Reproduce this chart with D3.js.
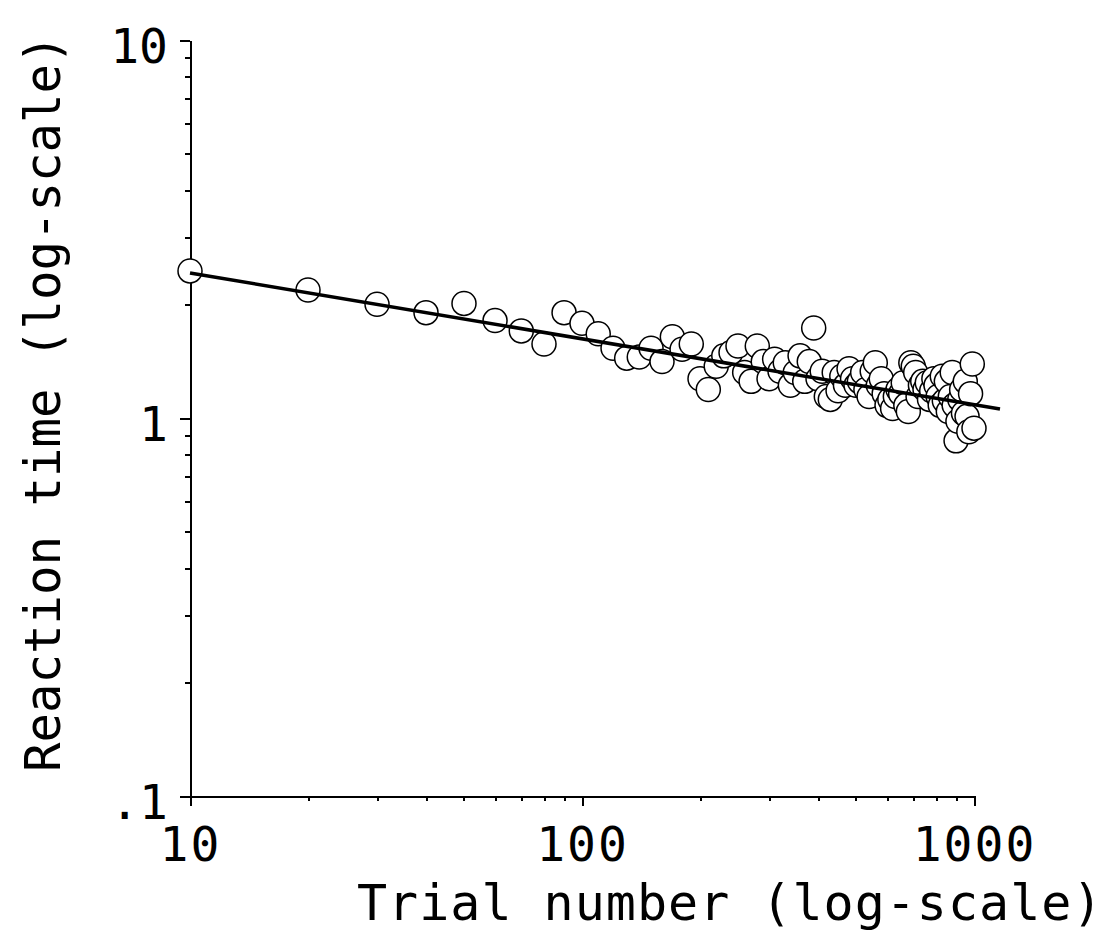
<!DOCTYPE html>
<html>
<head>
<meta charset="utf-8">
<script src="https://cdn.jsdelivr.net/npm/d3@7"></script>
<style>
  body { margin: 0; background: #fff; }
  svg text { font-family: "DejaVu Sans Mono", "Liberation Mono", monospace; fill: #000; }
</style>
</head>
<body>
<div id="viz"></div>
<script>
// trial numbers (every 10th trial) and mean reaction times
const trials = [
  10, 20, 30, 40, 50, 60, 70, 80, 90, 100,
  110, 120, 130, 140, 150, 160, 170, 180, 190, 200,
  210, 220, 230, 240, 250, 260, 270, 280, 290, 300,
  310, 320, 330, 340, 350, 360, 370, 380, 390, 400,
  410, 420, 430, 440, 450, 460, 470, 480, 490, 500,
  510, 520, 530, 540, 550, 560, 570, 580, 590, 600,
  610, 620, 630, 640, 650, 660, 670, 680, 690, 700,
  710, 720, 730, 740, 750, 760, 770, 780, 790, 800,
  810, 820, 830, 840, 850, 860, 870, 880, 890, 900,
  910, 920, 930, 940, 950, 960, 970, 980, 990, 1000
];
const reactionTimes = [
  2.45, 2.18, 2.00, 1.90, 2.01, 1.81, 1.70, 1.57, 1.90, 1.78,
  1.67, 1.53, 1.44, 1.45, 1.53, 1.41, 1.64, 1.52, 1.57, 1.27,
  1.19, 1.37, 1.46, 1.49, 1.55, 1.32, 1.25, 1.55, 1.41, 1.27,
  1.43, 1.33, 1.40, 1.22, 1.32, 1.46, 1.25, 1.41, 1.73, 1.27,
  1.33, 1.14, 1.12, 1.32, 1.18, 1.29, 1.22, 1.35, 1.27, 1.22,
  1.25, 1.32, 1.19, 1.14, 1.33, 1.40, 1.22, 1.27, 1.16, 1.08,
  1.12, 1.06, 1.14, 1.19, 1.16, 1.24, 1.08, 1.04, 1.40, 1.37,
  1.32, 1.14, 1.22, 1.25, 1.19, 1.24, 1.12, 1.18, 1.27, 1.22,
  1.14, 1.08, 1.29, 1.11, 1.25, 1.04, 1.14, 1.32, 1.08, 0.87,
  0.98, 1.12, 1.19, 1.03, 1.25, 1.01, 0.92, 1.16, 1.39, 0.94
];
// end points of the fitted power-law line
const fitTrials = [10, 1165];
const fitTimes = [2.42, 1.056];

const xMajor = [10, 100, 1000];
const yMajor = [0.1, 1, 10];
const yLabels = ['.1', '1', '10'];

(() => {
  let width = 1114,
    height = 950;

  let svg = d3.select('#viz')
    .append('svg')
    .attr('width', width)
    .attr('height', height);

  let x = d3.scaleLog()
    .domain([10, 1000])
    .range([190, 974]);

  let y = d3.scaleLog()
    .domain([0.1, 10])
    .range([796, 40]);

  let minor = (lo, hi) => {
    let out = [];
    for (let d = lo; d < hi; d *= 10) {
      for (let k = 2; k <= 9; k++) out.push(d * k);
    }
    return out;
  };

  // minor ticks
  svg.append('g')
    .attr('transform', 'translate(190,0)')
    .call(d3.axisLeft(y).tickValues(minor(0.1, 10)).tickSize(5).tickSizeOuter(0).tickFormat(''));

  svg.append('g')
    .attr('transform', 'translate(0,796)')
    .call(d3.axisBottom(x).tickValues(minor(10, 1000)).tickSize(5).tickSizeOuter(0).tickFormat(''));

  // major ticks with labels
  svg.append('g')
    .attr('class', 'y-axis')
    .attr('transform', 'translate(190,0)')
    .call(d3.axisLeft(y)
      .tickValues(yMajor)
      .tickSize(10)
      .tickSizeOuter(0)
      .tickPadding(12)
      .tickFormat((d, i) => yLabels[i]))
    .selectAll('text')
    .attr('dy', 22)
    .style('font-size', '48px');

  svg.append('g')
    .attr('class', 'x-axis')
    .attr('transform', 'translate(0,796)')
    .call(d3.axisBottom(x)
      .tickValues(xMajor)
      .tickSize(10)
      .tickSizeOuter(0)
      .tickFormat(d3.format('d')))
    .selectAll('text')
    .attr('y', 65)
    .attr('dy', 0)
    .style('font-size', '48px')
    .style('letter-spacing', '2px');

  svg.selectAll('.domain, .tick line')
    .attr('stroke', '#000')
    .attr('stroke-width', 2)
    .attr('shape-rendering', 'crispEdges');

  // points
  svg.append('g')
    .selectAll('circle')
    .data(trials.map((t, i) => ({ trial: t, rt: reactionTimes[i] })))
    .join('circle')
    .attr('cx', d => x(d.trial))
    .attr('cy', d => y(d.rt))
    .attr('r', 12)
    .attr('fill', '#fff')
    .attr('stroke', '#000')
    .attr('stroke-width', 1.5);

  // fitted line
  let line = d3.line()
    .x(d => x(d.trial))
    .y(d => y(d.rt));

  svg.append('path')
    .datum(fitTrials.map((t, i) => ({ trial: t, rt: fitTimes[i] })))
    .attr('d', line)
    .attr('fill', 'none')
    .attr('stroke', '#000')
    .attr('stroke-width', 3.5);

  // axis titles
  svg.append('text')
    .attr('x', 357)
    .attr('y', 920)
    .style('font-size', '50px')
    .style('letter-spacing', '1px')
    .text('Trial number (log-scale)');

  svg.append('text')
    .attr('transform', 'translate(60,772) rotate(-90)')
    .style('font-size', '49px')
    .text('Reaction time (log-scale)');
})();
</script>
</body>
</html>
